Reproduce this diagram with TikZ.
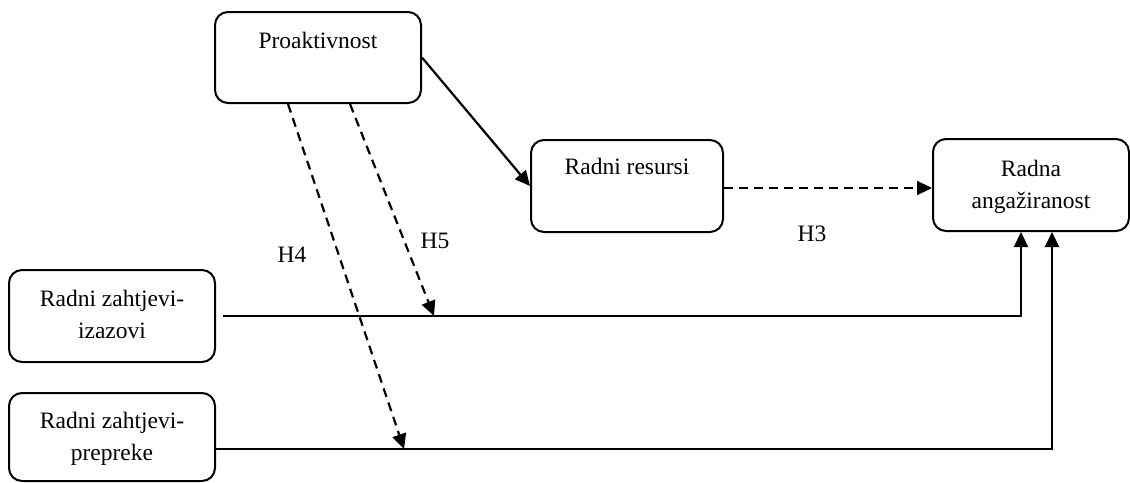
\documentclass[tikz,border=0pt]{standalone}
\usepackage{fontspec}
\setmainfont{Liberation Serif}
\usetikzlibrary{arrows.meta}
\begin{document}
\begin{tikzpicture}[x=1pt,y=-1pt,
  box/.style={draw=black, line width=2pt, rounded corners=13pt, inner sep=0pt},
  boxtext/.style={anchor=north, inner sep=0pt, align=center, font=\fontsize{23.5}{32}\selectfont},
  hyp/.style={font=\fontsize{23.5}{28}\selectfont, inner sep=0pt},
  conn/.style={line width=2.2pt, -{Triangle[length=15pt,width=14pt]}},
  dashconn/.style={conn, dash pattern=on 9pt off 6pt}]
\useasboundingbox (0,0) rectangle (1130,482);

\node[box, minimum width=206pt, minimum height=91pt] (pro) at (318,57.5) {};
\node[boxtext] (protext) at ([yshift=-21pt]pro.north) {Proaktivnost};

\node[box, minimum width=192pt, minimum height=92pt] (res) at (627,186) {};
\node[boxtext] (restext) at ([yshift=-19pt]res.north) {Radni resursi};

\node[box, minimum width=196pt, minimum height=92pt] (eng) at (1031,185) {};
\node[boxtext] (engtext) at ([yshift=-22pt]eng.north) {Radna\\angažiranost};

\node[box, minimum width=206pt, minimum height=92pt] (iza) at (112,316) {};
\node[boxtext] (izatext) at ([yshift=-21pt]iza.north) {Radni zahtjevi-\\izazovi};

\node[box, minimum width=206pt, minimum height=88pt] (pre) at (112,437) {};
\node[boxtext] (pretext) at ([yshift=-20pt]pre.north) {Radni zahtjevi-\\prepreke};

\coordinate (h5end) at (434,316);
\coordinate (h4end) at (404,449);

\draw[conn] (pro.east) -- (res.west);
\draw[dashconn] ([yshift=-2pt]res.east) -- ([yshift=-2pt]res.east -| eng.west);
\draw[conn] ([xshift=7pt]iza.east) -| ([xshift=-10pt]eng.south);
\draw[conn] ([yshift=-12pt]pre.east) -| ([xshift=21pt]eng.south);
\draw[dashconn] ([xshift=32pt]pro.south) -- (h5end);
\draw[dashconn] ([xshift=-30pt]pro.south) -- (h4end);

\node[hyp] (h3) at (812,234) {H3};
\node[hyp] (h4) at (292,255) {H4};
\node[hyp] (h5) at (435,241) {H5};
\end{tikzpicture}
\end{document}
